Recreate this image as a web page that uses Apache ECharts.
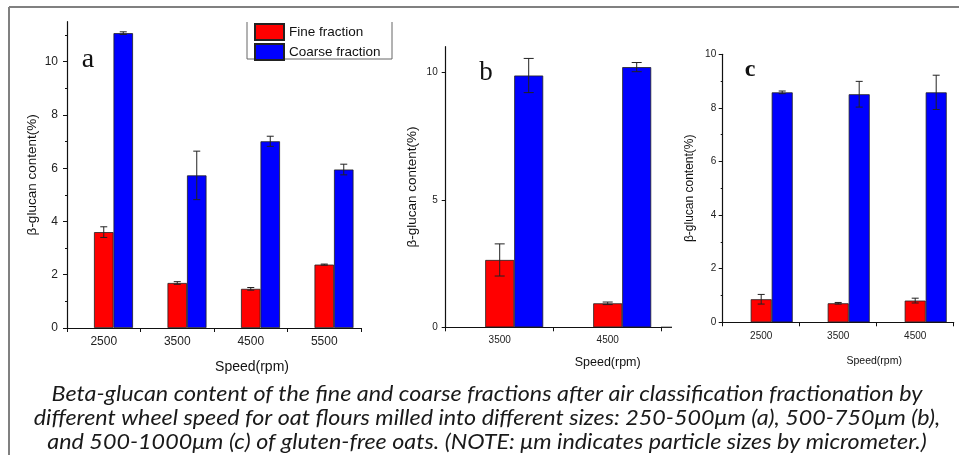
<!DOCTYPE html>
<html>
<head>
<meta charset="utf-8">
<script src="https://cdn.jsdelivr.net/npm/echarts@6/dist/echarts.min.js"></script>
<style>
html,body{margin:0;padding:0;background:#fff;}
#chart{width:959px;height:455px;}
</style>
</head>
<body>
<div id="chart"></div>
<script>
// ---- data ----
const catsA = ['2500', '3500', '4500', '5500'];
const fineA = [3.6, 1.69, 1.47, 2.38];
const fineErrA = [0.2, 0.05, 0.05, 0.02];
const coarseA = [11.07, 5.73, 7.01, 5.95];
const coarseErrA = [0.05, 0.91, 0.19, 0.2];

const catsB = ['3500', '4500'];
const fineB = [2.64, 0.94];
const fineErrB = [0.63, 0.05];
const coarseB = [9.87, 10.2];
const coarseErrB = [0.67, 0.18];

const catsC = ['2500', '3500', '4500'];
const fineC = [0.86, 0.71, 0.81];
const fineErrC = [0.18, 0.03, 0.09];
const coarseC = [8.58, 8.51, 8.58];
const coarseErrC = [0.05, 0.48, 0.64];

const ticksA = [0, 2, 4, 6, 8, 10];
const ticksB = [0, 5, 10];
const ticksC = [0, 2, 4, 6, 8, 10];

const seriesNames = ['Fine fraction', 'Coarse fraction'];
const panelLetters = ['a', 'b', 'c'];
const xName = 'Speed(rpm)';
const yName = 'β-glucan content(%)';
const captionLines = [
  'Beta-glucan content of the fine and coarse fractions after air classification fractionation by',
  'different wheel speed for oat flours milled into different sizes: 250-500μm (a), 500-750μm (b),',
  'and 500-1000μm (c) of gluten-free oats. (NOTE: μm indicates particle sizes by micrometer.)'
];

// ---- styles ----
const RED = '#ff0000', BLUE = '#0000ff';
const AX = '#111';
const FONT = 'Liberation Sans, Arial, sans-serif';

function errRender(barW, capW) {
  return function (params, api) {
    const idx = api.value(0), v = api.value(1), e = api.value(2), slot = api.value(3);
    const top = api.coord([idx, v + e]);
    const bot = api.coord([idx, v - e]);
    const x = top[0] + slot * barW;
    const st = { stroke: '#222', lineWidth: 1 };
    return {
      type: 'group',
      children: [
        { type: 'line', shape: { x1: x, y1: top[1], x2: x, y2: bot[1] }, style: st },
        { type: 'line', shape: { x1: x - capW / 2, y1: top[1], x2: x + capW / 2, y2: top[1] }, style: st },
        { type: 'line', shape: { x1: x - capW / 2, y1: bot[1], x2: x + capW / 2, y2: bot[1] }, style: st }
      ]
    };
  };
}

const panels = [
  { cats: catsA, fine: fineA, fineErr: fineErrA, coarse: coarseA, coarseErr: coarseErrA, ticks: ticksA,
    grid: { left: 67, top: 21.7, width: 294, height: 306.3 }, max: 11.5, minor: true,
    barW: 19.5, capW: 7, tickFont: 12, xNameFont: 14, xNameGap: 32, xNamePad: 76,
    yNameFont: 13.5, yNameGap: 28, labelMargin: 8, yLabelMargin: 9 },
  { cats: catsB, fine: fineB, fineErr: fineErrB, coarse: coarseB, coarseErr: coarseErrB, ticks: ticksB,
    grid: { left: 445.7, top: 46.7, width: 216, height: 280.6 }, max: 11, minor: false,
    barW: 29, capW: 10, tickFont: 10, xNameFont: 12.5, xNameGap: 29, xNamePad: 108,
    yNameFont: 13.5, yNameGap: 26, labelMargin: 8, yLabelMargin: 8 },
  { cats: catsC, fine: fineC, fineErr: fineErrC, coarse: coarseC, coarseErr: coarseErrC, ticks: ticksC,
    grid: { left: 722.7, top: 54.3, width: 231, height: 268 }, max: 10, minor: true,
    barW: 21, capW: 7, tickFont: 10, xNameFont: 10.5, xNameGap: 33, xNamePad: 72,
    yNameFont: 12, yNameGap: 27, labelMargin: 8.5, yLabelMargin: 6.5 }
];

const grids = [], xAxes = [], yAxes = [], series = [];
panels.forEach((p, i) => {
  grids.push(p.grid);
  xAxes.push({
    type: 'category', gridIndex: i, data: p.cats, boundaryGap: true,
    name: xName, nameLocation: 'middle', nameGap: p.xNameGap,
    nameTextStyle: { fontFamily: FONT, fontSize: p.xNameFont, color: '#111', padding: [0, 0, 0, p.xNamePad] },
    axisLine: { lineStyle: { color: AX, width: 1.2 } },
    axisTick: { show: true, inside: false, length: 4, lineStyle: { color: AX } },
    axisLabel: { fontFamily: FONT, fontSize: p.tickFont, color: '#222', margin: p.labelMargin },
    splitLine: { show: false }
  });
  yAxes.push({
    type: 'value', gridIndex: i, min: 0, max: p.max,
    name: yName, nameLocation: 'middle', nameGap: p.yNameGap,
    nameTextStyle: { fontFamily: FONT, fontSize: p.yNameFont, color: '#111' },
    axisLine: { show: true, lineStyle: { color: AX, width: 1.2 } },
    axisTick: { show: true, inside: false, length: 4, customValues: p.ticks, lineStyle: { color: AX } },
    minorTick: { show: p.minor, splitNumber: 2, length: 2, lineStyle: { color: AX } },
    axisLabel: { fontFamily: FONT, fontSize: p.tickFont, color: '#222', margin: p.yLabelMargin, customValues: p.ticks },
    splitLine: { show: false },
    minorSplitLine: { show: false }
  });
  const barStyle = (c) => ({ color: c, borderColor: '#222', borderWidth: 0.8 });
  series.push({
    type: 'bar', name: 'spacer' + i, xAxisIndex: i, yAxisIndex: i,
    data: p.cats.map(() => '-'), barWidth: p.barW, barGap: '0%', silent: true
  });
  series.push({
    type: 'bar', name: seriesNames[0], xAxisIndex: i, yAxisIndex: i,
    data: p.fine, barWidth: p.barW, barGap: '0%', itemStyle: barStyle(RED)
  });
  series.push({
    type: 'bar', name: seriesNames[1], xAxisIndex: i, yAxisIndex: i,
    data: p.coarse, barWidth: p.barW, barGap: '0%', itemStyle: barStyle(BLUE)
  });
  const errData = p.fine.map((v, k) => [k, v, p.fineErr[k], 0])
    .concat(p.coarse.map((v, k) => [k, v, p.coarseErr[k], 1]));
  series.push({
    type: 'custom', name: 'err' + i, xAxisIndex: i, yAxisIndex: i, z: 10,
    renderItem: errRender(p.barW, p.capW), encode: { x: 0, y: 1 }, data: errData, silent: true
  });
});

const letterPos = [
  { x: 88, y: 60, size: 28, weight: 'normal' },
  { x: 486, y: 73, size: 27, weight: 'normal' },
  { x: 750, y: 70, size: 24, weight: 'bold' }
];

const graphic = [
  // outer frame (top and left)
  { type: 'line', shape: { x1: 9, y1: 7, x2: 959, y2: 7 }, style: { stroke: '#808080', lineWidth: 2 } },
  { type: 'line', shape: { x1: 9, y1: 7, x2: 9, y2: 455 }, style: { stroke: '#808080', lineWidth: 2 } },
  // legend box (open at top)
  { type: 'polyline', shape: { points: [[247, 22], [247, 59], [392, 59], [392, 22]] },
    style: { stroke: '#666', lineWidth: 1, fill: null } },
  // panel b x-axis line runs a little past the last tick
  { type: 'line', shape: { x1: 661, y1: 327.3, x2: 672, y2: 327.3 }, style: { stroke: AX, lineWidth: 1.2 } }
];
panelLetters.forEach((t, i) => {
  const lp = letterPos[i];
  graphic.push({
    type: 'text', x: lp.x, y: lp.y,
    style: { text: t, fontFamily: 'Liberation Serif, Times New Roman, serif', fontSize: lp.size,
      fontWeight: lp.weight, fill: '#111', align: 'center', verticalAlign: 'middle' }
  });
});
const capY = [394.5, 418.5, 442.5];
captionLines.forEach((t, i) => {
  graphic.push({
    type: 'text', x: 487, y: capY[i], scaleX: 1.11,
    style: { text: t, fontFamily: 'Lato, Carlito, sans-serif', fontStyle: 'italic', fontSize: 21,
      fill: '#1a1a1a', align: 'center', verticalAlign: 'middle' }
  });
});

const chart = echarts.init(document.getElementById('chart'), null, { renderer: 'canvas' });
chart.setOption({
  animation: false,
  backgroundColor: '#fff',
  legend: {
    data: seriesNames, orient: 'vertical', left: 254, top: 23, padding: 0,
    itemWidth: 29, itemHeight: 16, itemGap: 2, icon: 'rect', selectedMode: false,
    textStyle: { fontFamily: FONT, fontSize: 13.5, color: '#111' }
  },
  grid: grids,
  xAxis: xAxes,
  yAxis: yAxes,
  series: series,
  graphic: graphic
});
</script>
</body>
</html>
